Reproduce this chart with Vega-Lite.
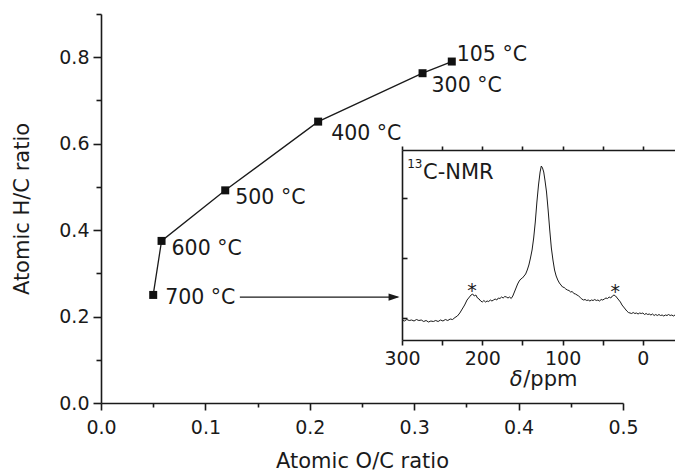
{
  "$schema": "https://vega.github.io/schema/vega-lite/v6.json",
  "width": 522,
  "height": 389,
  "autosize": {"type": "none"},
  "padding": {"left": 101, "top": 14, "right": 52, "bottom": 70},
  "background": "white",
  "config": {
    "view": {"stroke": null},
    "font": "DejaVu Sans",
    "axis": {"labelFont": "DejaVu Sans", "titleFont": "DejaVu Sans", "labelColor": "#1a1a1a", "titleColor": "#1a1a1a", "domainColor": "#1a1a1a", "tickColor": "#1a1a1a", "grid": false, "titleFontWeight": "normal", "labelOverlap": false, "labelFlush": false, "domainWidth": 1.6, "tickWidth": 1.6},
    "text": {"font": "DejaVu Sans", "color": "#1a1a1a"}
  },
  "datasets": {
    "pts": [
      {"t": "700 °C", "oc": 0.050, "hc": 0.250},
      {"t": "600 °C", "oc": 0.058, "hc": 0.375},
      {"t": "500 °C", "oc": 0.119, "hc": 0.492},
      {"t": "400 °C", "oc": 0.208, "hc": 0.651},
      {"t": "300 °C", "oc": 0.308, "hc": 0.763},
      {"t": "105 °C", "oc": 0.336, "hc": 0.790}
    ],
    "arrow": [{"oc": 0.133, "oc2": 0.284, "hc": 0.245}],
    "head": [{"oc": 0.286, "hc": 0.245}],
    "nmr": [
      {"p":300,"I":20},{"p":297,"I":19},{"p":294,"I":20.5},{"p":291,"I":19.5},{"p":288,"I":20},{"p":285,"I":19},{"p":282,"I":20.5},{"p":279,"I":19.5},{"p":276,"I":20},{"p":273,"I":18.5},{"p":270,"I":19.5},{"p":267,"I":18},{"p":264,"I":19},{"p":261,"I":18.5},{"p":258,"I":19.5},{"p":255,"I":18.5},{"p":252,"I":20},{"p":249,"I":19},{"p":246,"I":20.5},{"p":243,"I":19.5},{"p":240,"I":21},{"p":237,"I":20.5},{"p":234,"I":22.5},{"p":231,"I":24},{"p":228,"I":27},{"p":225,"I":31},{"p":222,"I":35},{"p":219,"I":40},{"p":216,"I":43},{"p":214,"I":45},{"p":212,"I":46},{"p":210,"I":44},{"p":208,"I":45},{"p":206,"I":42},{"p":204,"I":41},{"p":202,"I":39},{"p":200,"I":38},{"p":198,"I":39.5},{"p":196,"I":38},{"p":194,"I":39},{"p":192,"I":38.5},{"p":190,"I":40},{"p":188,"I":39},{"p":186,"I":40},{"p":184,"I":41},{"p":182,"I":40},{"p":180,"I":42},{"p":178,"I":41.5},{"p":176,"I":43},{"p":174,"I":42},{"p":172,"I":43.5},{"p":170,"I":43},{"p":168,"I":42},{"p":166,"I":43},{"p":164,"I":41.5},{"p":162,"I":44},{"p":160,"I":48},{"p":158,"I":52},{"p":156,"I":56},{"p":154,"I":59},{"p":152,"I":61},{"p":150,"I":62},{"p":148,"I":64},{"p":146,"I":66},{"p":144,"I":70},{"p":142,"I":75},{"p":140,"I":82},{"p":138,"I":90},{"p":136,"I":102},{"p":134,"I":118},{"p":132,"I":138},{"p":130,"I":155},{"p":128,"I":168},{"p":126.5,"I":174},{"p":125,"I":172},{"p":123.5,"I":168},{"p":122,"I":160},{"p":120,"I":148},{"p":118,"I":130},{"p":116,"I":110},{"p":114,"I":92},{"p":112,"I":80},{"p":110,"I":70},{"p":108,"I":64},{"p":106,"I":60},{"p":104,"I":57},{"p":102,"I":55},{"p":100,"I":53},{"p":98,"I":52.5},{"p":96,"I":51},{"p":94,"I":50},{"p":92,"I":49.5},{"p":90,"I":48},{"p":88,"I":48.5},{"p":86,"I":46.5},{"p":84,"I":46},{"p":82,"I":45},{"p":80,"I":44},{"p":78,"I":42.5},{"p":76,"I":41},{"p":74,"I":40},{"p":72,"I":40.5},{"p":70,"I":39.5},{"p":68,"I":40},{"p":66,"I":39},{"p":64,"I":40},{"p":62,"I":39.5},{"p":60,"I":40.5},{"p":58,"I":39.5},{"p":56,"I":40},{"p":54,"I":39},{"p":52,"I":40.5},{"p":50,"I":40},{"p":48,"I":41},{"p":46,"I":42},{"p":44,"I":41.5},{"p":42,"I":43},{"p":40,"I":42},{"p":38,"I":44},{"p":36,"I":45},{"p":34,"I":44},{"p":32,"I":42},{"p":30,"I":40},{"p":28,"I":38},{"p":26,"I":35},{"p":24,"I":33},{"p":22,"I":31},{"p":20,"I":29},{"p":18,"I":27.5},{"p":16,"I":27},{"p":14,"I":26.5},{"p":12,"I":27.5},{"p":10,"I":26.5},{"p":8,"I":27},{"p":6,"I":26},{"p":4,"I":27},{"p":2,"I":26.5},{"p":0,"I":27},{"p":-2,"I":25.5},{"p":-4,"I":26.5},{"p":-6,"I":25.5},{"p":-8,"I":26},{"p":-10,"I":25},{"p":-12,"I":26},{"p":-14,"I":24.5},{"p":-16,"I":25.5},{"p":-18,"I":24.5},{"p":-20,"I":25.5},{"p":-22,"I":24.5},{"p":-24,"I":25},{"p":-26,"I":24},{"p":-28,"I":25},{"p":-30,"I":24.5},{"p":-32,"I":25.5},{"p":-34,"I":24.5},{"p":-36,"I":25},{"p":-38,"I":24},{"p":-40,"I":25}
    ],
    "stars": [{"p": 212.8, "I": 43}, {"p": 34.3, "I": 41.7}],
    "axlab": [{"p": 165.9, "I": -39.5, "t": "δ"}, {"p": 149, "I": -39.5, "t": "/ppm"}],
    "ttl": [{"p": 273.8, "I": 167, "t": "C-NMR"}, {"p": 274.5, "I": 176, "t": "13"}]
  },
  "layer": [
    {
      "data": {"name": "pts"},
      "encoding": {
        "x": {"field": "oc", "type": "quantitative", "scale": {"domain": [0, 0.5], "nice": false, "zero": false},
          "axis": {"values": [0, 0.05, 0.1, 0.15, 0.2, 0.25, 0.3, 0.35, 0.4, 0.45, 0.5],
            "labelExpr": "round(datum.value*20)%2==0 ? format(datum.value,'.1f') : ''",
            "tickSize": {"condition": {"test": "round(datum.value*20)%2==0", "value": 7}, "value": 4},
            "labelFontSize": 19, "labelPadding": 8, "title": "Atomic O/C ratio", "titleFontSize": 21, "titlePadding": 13}},
        "y": {"field": "hc", "type": "quantitative", "scale": {"domain": [0, 0.9], "nice": false},
          "axis": {"values": [0, 0.1, 0.2, 0.3, 0.4, 0.5, 0.6, 0.7, 0.8, 0.9],
            "labelExpr": "round(datum.value*10)%2==0 ? format(datum.value,'.1f') : ''",
            "tickSize": {"condition": {"test": "round(datum.value*10)%2==0", "value": 8}, "value": 5},
            "labelFontSize": 19, "labelPadding": 4, "title": "Atomic H/C ratio", "titleFontSize": 21, "titlePadding": 26}}
      },
      "layer": [
        {"mark": {"type": "line", "color": "#1a1a1a", "strokeWidth": 1.3}},
        {"mark": {"type": "point", "shape": "square", "filled": true, "size": 64, "color": "#111111", "opacity": 1}},
        {"transform": [{"filter": "datum.t=='105 °C'"}], "mark": {"type": "text", "align": "left", "baseline": "middle", "fontSize": 20.5, "dx": 5, "dy": -7}, "encoding": {"text": {"field": "t"}}},
        {"transform": [{"filter": "datum.t=='300 °C'"}], "mark": {"type": "text", "align": "left", "baseline": "middle", "fontSize": 20.5, "dx": 9, "dy": 13}, "encoding": {"text": {"field": "t"}}},
        {"transform": [{"filter": "datum.t=='400 °C'"}], "mark": {"type": "text", "align": "left", "baseline": "middle", "fontSize": 20.5, "dx": 13, "dy": 12}, "encoding": {"text": {"field": "t"}}},
        {"transform": [{"filter": "datum.t=='500 °C' || datum.t=='600 °C'"}], "mark": {"type": "text", "align": "left", "baseline": "middle", "fontSize": 20.5, "dx": 10, "dy": 8}, "encoding": {"text": {"field": "t"}}},
        {"transform": [{"filter": "datum.t=='700 °C'"}], "mark": {"type": "text", "align": "left", "baseline": "middle", "fontSize": 20.5, "dx": 12, "dy": 3}, "encoding": {"text": {"field": "t"}}},
        {"data": {"name": "arrow"}, "mark": {"type": "rule", "color": "#1a1a1a", "strokeWidth": 1.3}, "encoding": {"x2": {"field": "oc2"}}},
        {"data": {"name": "head"}, "mark": {"type": "point", "shape": "M0,0L-1,-0.32L-1,0.32Z", "filled": true, "size": 484, "color": "#1a1a1a", "opacity": 1}}
      ]
    },
    {
      "data": {"name": "nmr"},
      "encoding": {
        "x": {"field": "p", "type": "quantitative", "scale": {"domain": [-40, 300], "reverse": true, "range": [301, 574], "nice": false, "zero": false},
          "axis": {"orient": "bottom", "offset": -63, "values": [300, 250, 200, 150, 100, 50, 0],
            "labelExpr": "datum.value%100==0 ? format(datum.value,'d') : ''", "tickSize": 5, "labelFontSize": 19, "labelPadding": 4, "title": null}},
        "y": {"field": "I", "type": "quantitative", "scale": {"domain": [0, 190], "range": [326, 136], "nice": false, "zero": false},
          "axis": {"orient": "left", "offset": -301, "values": [22, 82, 142], "labels": false, "tickSize": -5, "title": null}}
      },
      "layer": [
        {"mark": {"type": "line", "color": "#1a1a1a", "strokeWidth": 1}},
        {"data": {"name": "stars"}, "mark": {"type": "text", "text": "*", "fontSize": 19, "baseline": "alphabetic", "align": "center"}},
        {"data": {"name": "axlab"}, "transform": [{"filter": "datum.t=='δ'"}], "mark": {"type": "text", "fontStyle": "italic", "fontSize": 21, "align": "left", "baseline": "middle"}, "encoding": {"text": {"field": "t"}}},
        {"data": {"name": "axlab"}, "transform": [{"filter": "datum.t=='/ppm'"}], "mark": {"type": "text", "fontSize": 21, "align": "left", "baseline": "middle"}, "encoding": {"text": {"field": "t"}}},
        {"data": {"name": "ttl"}, "transform": [{"filter": "datum.t=='C-NMR'"}], "mark": {"type": "text", "fontSize": 21, "align": "left", "baseline": "middle"}, "encoding": {"text": {"field": "t"}}},
        {"data": {"name": "ttl"}, "transform": [{"filter": "datum.t=='13'"}], "mark": {"type": "text", "fontSize": 12, "align": "right", "baseline": "middle"}, "encoding": {"text": {"field": "t"}}}
      ]
    },
    {
      "data": {"name": "nmr"},
      "mark": {"type": "point", "opacity": 0},
      "encoding": {
        "x": {"field": "p", "type": "quantitative", "scale": {"domain": [-40, 300], "reverse": true, "range": [301, 574], "nice": false, "zero": false},
          "axis": {"orient": "top", "offset": -136, "values": [300, 250, 200, 150, 100, 50, 0], "labels": false, "tickSize": 4, "title": null}}
      }
    }
  ],
  "resolve": {"scale": {"x": "independent", "y": "independent"}, "axis": {"x": "independent", "y": "independent"}}
}
